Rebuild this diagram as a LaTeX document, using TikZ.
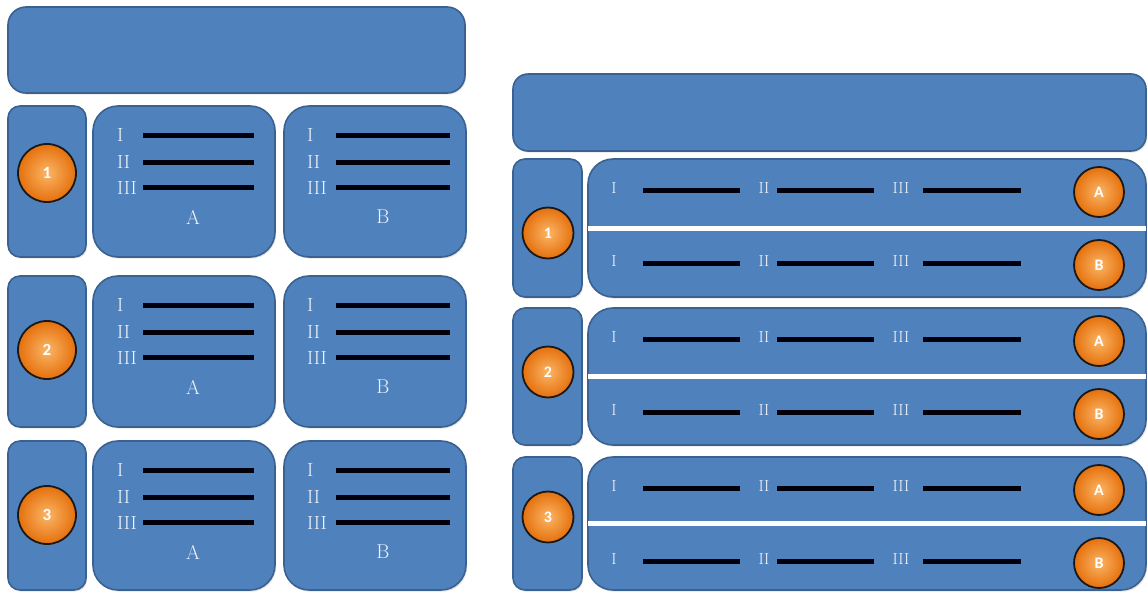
\documentclass[tikz,border=0pt]{standalone}
\usepackage{fontspec}
\newfontfamily\digitfont{Carlito}
\usetikzlibrary{shadows}
\definecolor{boxblue}{HTML}{4F81BD}
\definecolor{boxedge}{HTML}{3A6190}
\definecolor{txtcol}{HTML}{EEF3FA}
\definecolor{orin}{HTML}{FBB566}
\definecolor{orout}{HTML}{E5700C}
\begin{document}
\begin{tikzpicture}[x=1pt,y=-1pt,
  panel/.style={draw=boxedge, line width=1.6pt, fill=boxblue, inner sep=0pt, outer sep=0pt,
    anchor=north west, drop shadow={opacity=0.22, shadow xshift=1.2pt, shadow yshift=-1.6pt}},
  ball/.style={circle, draw=black!90, line width=1.8pt, inner color=orin, outer color=orout,
    text=white, inner sep=0pt, font=\digitfont\bfseries\fontsize{17}{17}\selectfont,
    drop shadow={opacity=0.3, shadow xshift=0.8pt, shadow yshift=-1.8pt}},
  numL/.style={text=txtcol, inner sep=0pt, anchor=west, font=\fontsize{19}{19}\selectfont},
  labL/.style={text=txtcol, inner sep=0pt, font=\fontsize{20}{20}\selectfont},
  numR/.style={text=txtcol, inner sep=0pt, font=\fontsize{16}{16}\selectfont},
  bar/.style={line width=5pt, black!95!blue},
  sep/.style={line width=5pt, white}]
\useasboundingbox (0,0) rectangle (1148,592);
\fill[white] (0,0) rectangle (1148,592);

% ---------- left panel ----------
\node[panel, rounded corners=18pt, minimum width=457pt, minimum height=86pt] (Ltop) at (8,7) {};
\foreach \r/\t/\h/\cy in {1/106/151/173, 2/276/151/350, 3/441/149/515}{
  \node[panel, rounded corners=12pt, minimum width=78pt, minimum height=\h pt] (Ln\r) at (8,\t) {};
  \node[ball, minimum size=58pt] (Lc\r) at (47,\cy) {\r};
  % box A
  \node[panel, rounded corners=25pt, minimum width=182pt, minimum height=\h pt] (LA\r) at (93,\t) {};
  \node[numL] (LA\r i) at (117,{\t+29}) {I};
  \node[numL] (LA\r ii) at (117,{\t+56}) {II};
  \node[numL] (LA\r iii) at (117,{\t+82}) {III};
  \draw[bar] (143,{\t+29}) -- (254,{\t+29});
  \draw[bar] (143,{\t+56}) -- (254,{\t+56});
  \draw[bar] (143,{\t+81}) -- (254,{\t+81});
  \node[labL] (LA\r l) at (193,{\t+111}) {A};
  % box B
  \node[panel, rounded corners=25pt, minimum width=182pt, minimum height=\h pt] (LB\r) at (284,\t) {};
  \node[numL] (LB\r i) at (307,{\t+29}) {I};
  \node[numL] (LB\r ii) at (307,{\t+56}) {II};
  \node[numL] (LB\r iii) at (307,{\t+82}) {III};
  \draw[bar] (336,{\t+29}) -- (450,{\t+29});
  \draw[bar] (336,{\t+56}) -- (450,{\t+56});
  \draw[bar] (336,{\t+81}) -- (450,{\t+81});
  \node[labL] (LB\r l) at (383,{\t+111}) {B};
}

% ---------- right panel ----------
\node[panel, rounded corners=15pt, minimum width=633pt, minimum height=77pt] (Rtop) at (513,74) {};
\foreach \r/\t/\h/\cy in {1/159/138/233, 2/308/137/372, 3/457/133/517}{
  \node[panel, rounded corners=12pt, minimum width=69pt, minimum height=\h pt] (Rn\r) at (513,\t) {};
  \node[ball, minimum size=51pt, font=\digitfont\bfseries\fontsize{16}{16}\selectfont] (Rc\r) at (548,\cy) {\r};
  \node[panel, rounded corners=25pt, minimum width=558pt, minimum height=\h pt] (Rb\r) at (588,\t) {};
  \draw[sep] (Rb\r.west) -- (Rb\r.east);
  \foreach \s/\dy/\L in {a/0/A, b/73/B}{
    \node[numR] (R\r\s i) at (614,{\t+29+\dy}) {I};
    \node[numR] (R\r\s ii) at (764,{\t+29+\dy}) {II};
    \node[numR] (R\r\s iii) at (901,{\t+29+\dy}) {III};
    \draw[bar] (643,{\t+31+\dy}) -- (740,{\t+31+\dy});
    \draw[bar] (777,{\t+31+\dy}) -- (874,{\t+31+\dy});
    \draw[bar] (923,{\t+31+\dy}) -- (1021,{\t+31+\dy});
    \node[ball, minimum size=50pt, font=\digitfont\bfseries\fontsize{16}{16}\selectfont] (R\r\s c) at (1099,{\t+33+\dy}) {\L};
  }
}
\end{tikzpicture}
\end{document}
